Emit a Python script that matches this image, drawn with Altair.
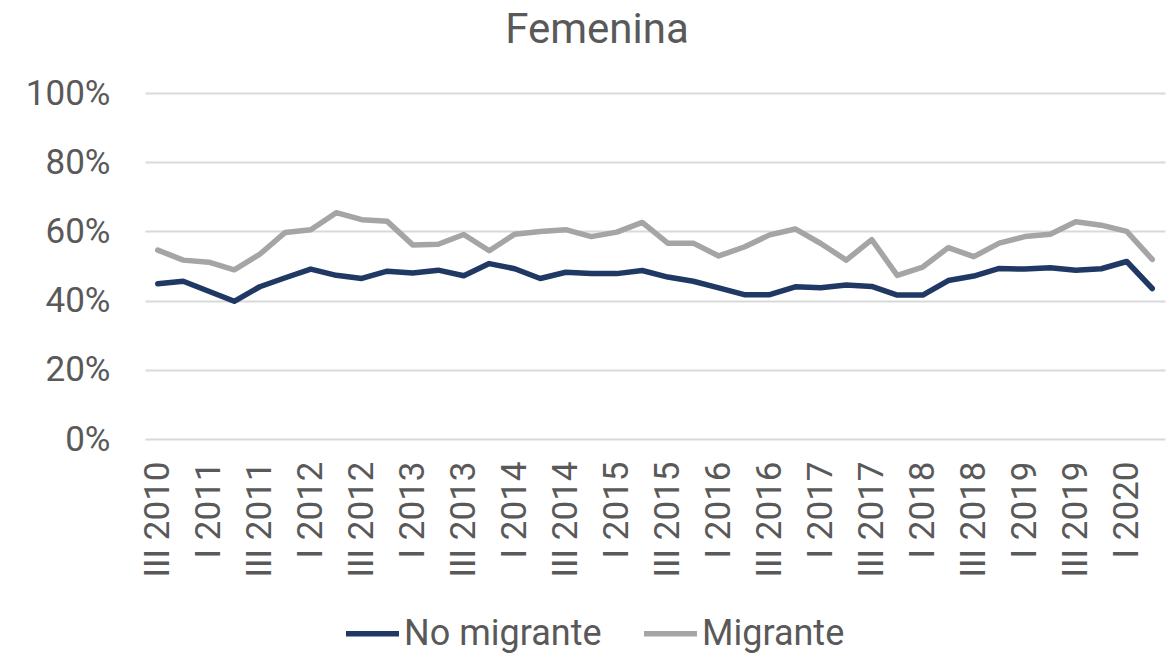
import altair as alt
import pandas as pd

quarters = []
romans = ["I", "II", "III", "IV"]
year, q = 2010, 2
for _ in range(40):
    quarters.append(f"{romans[q]} {year}")
    q += 1
    if q == 4:
        q = 0
        year += 1

no_migrante = [44.9, 45.6, 42.7, 39.8, 44.0, 46.6, 49.1, 47.3, 46.4, 48.5,
               48.0, 48.8, 47.2, 50.7, 49.2, 46.4, 48.2, 47.8, 47.8, 48.7,
               46.8, 45.6, 43.7, 41.7, 41.7, 44.0, 43.7, 44.5, 44.1, 41.6,
               41.6, 45.8, 47.1, 49.3, 49.1, 49.5, 48.8, 49.2, 51.3, 43.5]
migrante = [54.6, 51.7, 51.1, 48.9, 53.4, 59.7, 60.5, 65.4, 63.4, 62.9,
            56.1, 56.3, 59.1, 54.4, 59.2, 60.0, 60.5, 58.5, 59.8, 62.6,
            56.6, 56.6, 52.9, 55.5, 59.0, 60.7, 56.5, 51.7, 57.6, 47.3,
            49.7, 55.3, 52.7, 56.6, 58.5, 59.2, 62.8, 61.8, 60.0, 51.9]

series = ["No migrante", "Migrante"]
colors = ["#203864", "#A5A5A5"]

rows = []
for i, qt in enumerate(quarters):
    rows.append({"Trimestre": qt, "Serie": series[0], "Valor": no_migrante[i]})
    rows.append({"Trimestre": qt, "Serie": series[1], "Valor": migrante[i]})
df = pd.DataFrame(rows)

shown_labels = quarters[0::2]
FONT = "Roboto"
TXT = "#595959"

chart = alt.Chart(df).mark_line(strokeWidth=5.5, strokeJoin="round", strokeCap="round").encode(
    x=alt.X("Trimestre:N", sort=quarters,
            scale=alt.Scale(type="point", padding=0.5),
            axis=alt.Axis(title=None, values=shown_labels, labelAngle=-90,
                          labelAlign="right", labelBaseline="middle",
                          labelFontSize=35, labelFont=FONT, labelColor=TXT,
                          labelPadding=22, ticks=False, domain=False, grid=False,
                          labelOverlap=False)),
    y=alt.Y("Valor:Q", scale=alt.Scale(domain=[0, 100], nice=False),
            axis=alt.Axis(title=None, values=[0, 20, 40, 60, 80, 100],
                          labelExpr="datum.value + '%'",
                          labelFontSize=35, labelFont=FONT, labelColor=TXT,
                          labelPadding=35, ticks=False, domain=False,
                          grid=True, gridColor="#D9D9D9", gridWidth=2)),
    color=alt.Color("Serie:N", sort=series,
                    scale=alt.Scale(domain=series, range=colors),
                    legend=alt.Legend(title=None, orient="none", direction="horizontal",
                                      legendX=198, legendY=511,
                                      symbolType="stroke", symbolSize=2809,
                                      symbolStrokeWidth=5.5, labelFontSize=36,
                                      labelFont=FONT, labelColor=TXT, labelOffset=2,
                                      labelLimit=500, columnPadding=31)),
).properties(
    width=1020, height=346,
    title=alt.TitleParams("Femenina", fontSize=42, font=FONT, color=TXT,
                          fontWeight="normal", anchor="middle", dx=-58, offset=24),
    padding={"left": 137, "top": 85, "right": 3, "bottom": 215},
    autosize=alt.AutoSizeParams(type="none"),
).configure_view(stroke=None)

chart.save("out.html", embed_options={"renderer": "svg", "actions": False})
